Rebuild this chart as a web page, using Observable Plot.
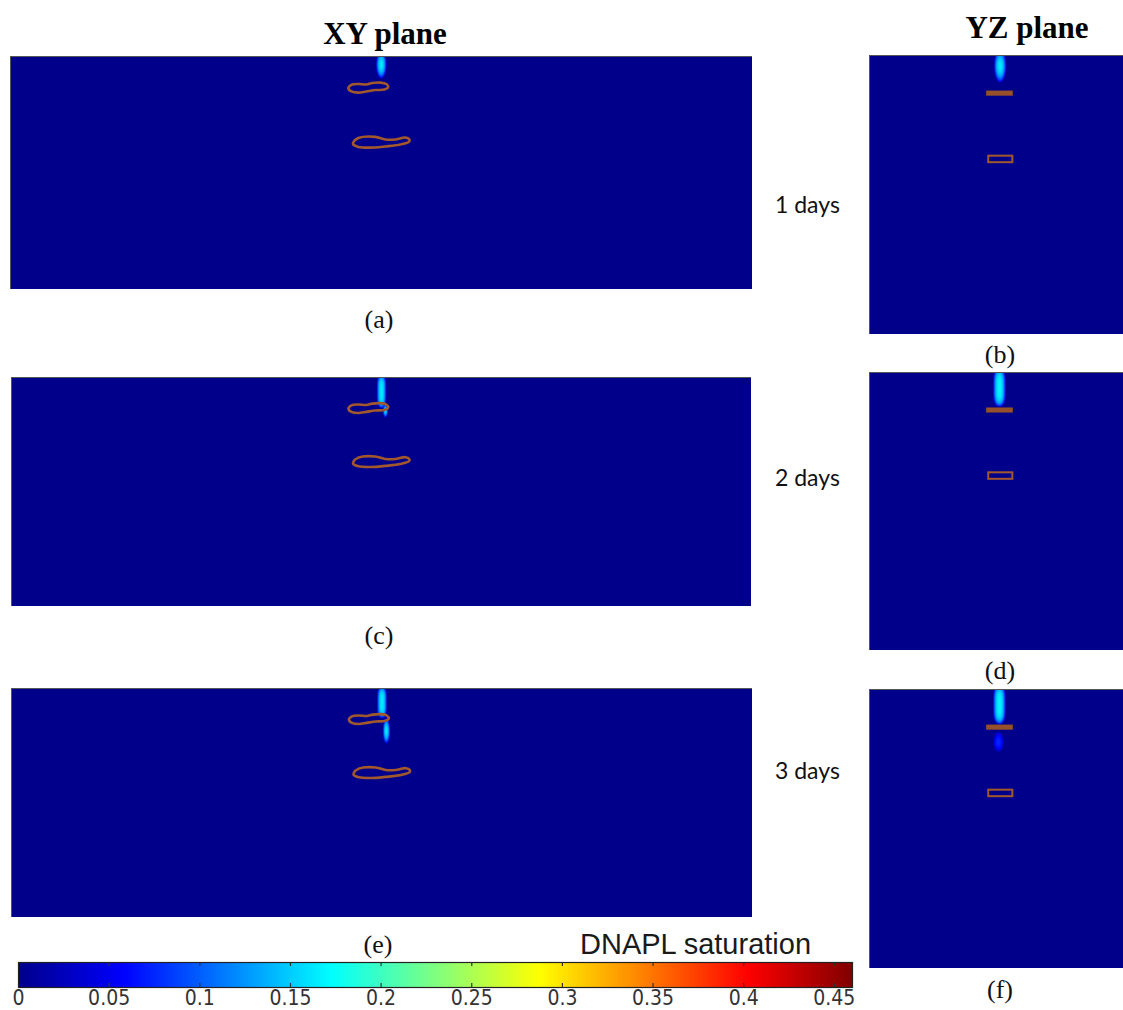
<!DOCTYPE html>
<html><head><meta charset="utf-8">
<script src="https://cdn.jsdelivr.net/npm/d3@7"></script>
<script src="https://cdn.jsdelivr.net/npm/@observablehq/plot@0.6"></script>
<style>
body{margin:0;background:#fff;}
#root{position:relative;width:1123px;height:1010px;overflow:hidden;background:#fff;}
.panel{position:absolute;line-height:0;}
#overlay{position:absolute;left:0;top:0;}
</style></head><body><div id="root"></div>
<script>
// ---------------- data ----------------
const panelIds   = ["a", "b", "c", "d", "e", "f"];
const panelPlane = ["XY", "YZ", "XY", "YZ", "XY", "YZ"];
const dayLabels  = ["1 days", "2 days", "3 days"];
const planeTitles = ["XY plane", "YZ plane"];
const legendTitle = "DNAPL saturation";

// model extents (cm): [horizontal, depth]
const xyExtent = [320, 100];
const yzExtent = [109.5, 120];

// DNAPL plume bodies (cm): panel, centre, radii, peak saturation, vertical shape exponent
const plumePanel = ["a", "c", "c", "e", "e", "b", "d", "f", "f"];
const plumeX     = [159.9, 160.0, 161.7, 160.0, 161.9, 56.3, 56.0, 56.0, 55.6];
const plumeY     = [3.5, 6.0, 14.5, 6.0, 18.5, 4.5, 6.5, 6.5, 22.6];
const plumeRx    = [2.2, 2.0, 1.0, 2.1, 1.5, 2.6, 2.7, 2.7, 2.2];
const plumeRy    = [6.0, 7.5, 2.9, 7.0, 5.6, 7.2, 8.4, 8.6, 4.4];
const plumePeak  = [0.165, 0.165, 0.16, 0.165, 0.165, 0.165, 0.17, 0.17, 0.075];
const plumeShape = [2, 4, 2, 4, 2, 2, 4, 4, 2];

// low-permeability lens outlines in the XY plane (cm)
const lensId = ["upper","upper","upper","upper","upper","upper","upper","upper","upper","upper","upper","upper","upper",
                "lower","lower","lower","lower","lower","lower","lower","lower","lower","lower","lower","lower","lower"];
const lensX = [145.7,147.0,150.0,153.4,156.0,159.5,162.1,162.9,161.2,157.3,153.4,150.0,147.0,
               147.8,150.0,157.3,161.6,165.9,170.3,172.0,172.0,168.1,161.6,155.2,150.0,147.8];
const lensY = [13.7,12.2,11.8,12.0,11.4,11.2,11.8,13.1,14.2,14.4,15.0,15.5,15.0,
               36.9,35.0,34.5,35.6,35.6,34.8,35.6,36.5,37.8,38.6,39.1,38.8,37.8];

// lenses in the YZ plane (cm)
const yzLensKind = ["filled", "outline"];
const yzLensX1 = [50.5, 51.4];
const yzLensX2 = [62.0, 61.8];
const yzLensY1 = [15.3, 43.3];
const yzLensY2 = [17.5, 46.1];

// colour bar
const cbMax = 0.46;
const cbTicks = [0, 0.05, 0.1, 0.15, 0.2, 0.25, 0.3, 0.35, 0.4, 0.45];
const jetStops  = [0, 0.125, 0.375, 0.625, 0.875, 1];
const jetColors = ["#00008a", "#0000ff", "#00ffff", "#ffff00", "#ff0000", "#800000"];

// ---------------- layout ----------------
const layout = {
  a: {left: 10,  top: 56,  width: 742, height: 233},
  c: {left: 11,  top: 377, width: 740, height: 229},
  e: {left: 11,  top: 688, width: 741, height: 229},
  b: {left: 869, top: 55,  width: 254, height: 279},
  d: {left: 869, top: 372, width: 254, height: 278},
  f: {left: 869, top: 689, width: 254, height: 279}
};
const brown = "#a0582c";
const colorScale = {type: "linear", domain: jetStops.map(t => t * cbMax), range: jetColors};

const plumes = plumePanel.map((p, i) => ({panel: p, x: plumeX[i], y: plumeY[i], rx: plumeRx[i], ry: plumeRy[i], peak: plumePeak[i], shape: plumeShape[i]}));
const lensPts = lensId.map((id, i) => ({id, x: lensX[i], y: lensY[i]}));
const yzLenses = yzLensKind.map((k, i) => ({kind: k, x1: yzLensX1[i], x2: yzLensX2[i], y1: yzLensY1[i], y2: yzLensY2[i]}));

function saturation(list, x, y) {
  let v = 0;
  for (const p of list) {
    const dx = (x - p.x) / p.rx, dy = Math.abs((y - p.y) / p.ry);
    const r = dx * dx + Math.pow(dy, p.shape);
    if (r < 1) { const s = p.peak * Math.pow(1 - r, 0.55); if (s > v) v = s; }
  }
  return v;
}

const root = document.getElementById("root");

panelIds.forEach((id, k) => {
  const L = layout[id];
  const isXY = panelPlane[k] === "XY";
  const ext = isXY ? xyExtent : yzExtent;
  const mine = plumes.filter(p => p.panel === id);
  const marks = [
    Plot.raster({fill: (x, y) => saturation(mine, x, y), x1: 0, x2: ext[0], y1: 0, y2: ext[1], pixelSize: 1})
  ];
  if (isXY) {
    marks.push(Plot.line(lensPts, {x: "x", y: "y", z: "id", curve: "catmull-rom-closed", stroke: brown, strokeWidth: 2.6}));
  } else {
    marks.push(Plot.rect(yzLenses.filter(d => d.kind === "filled"), {x1: "x1", x2: "x2", y1: "y1", y2: "y2", fill: "#96502a"}));
    marks.push(Plot.rect(yzLenses.filter(d => d.kind === "outline"), {x1: "x1", x2: "x2", y1: "y1", y2: "y2", fill: "none", stroke: brown, strokeWidth: 2}));
  }
  marks.push(Plot.frame({stroke: "#555", strokeWidth: 1}));
  const chart = Plot.plot({
    width: L.width, height: L.height, margin: 0,
    x: {domain: [0, ext[0]], axis: null},
    y: {domain: [0, ext[1]], reverse: true, axis: null},
    color: colorScale,
    marks
  });
  const div = document.createElement("div");
  div.className = "panel";
  div.style.left = L.left + "px"; div.style.top = L.top + "px";
  div.appendChild(chart);
  root.appendChild(div);
});

// colour bar
const cbFont = "'DejaVu Sans Condensed', 'Liberation Sans Narrow', 'Roboto Condensed', 'DejaVu Sans', sans-serif";
const cb = Plot.plot({
  width: 870, height: 53,
  marginLeft: 18, marginRight: 18, marginTop: 2, marginBottom: 26,
  style: {fontFamily: cbFont, fontSize: "21px", color: "#333", background: "transparent"},
  x: {domain: [0, cbMax], ticks: cbTicks, tickSize: 0, tickPadding: 3, label: null, tickFormat: d => String(d)},
  y: {domain: [0, 1], axis: null},
  color: colorScale,
  marks: [
    Plot.raster({fill: (x, y) => x, x1: 0, x2: cbMax, y1: 0, y2: 1, pixelSize: 1}),
    Plot.ruleX(cbTicks.slice(1), {y1: 0, y2: 0.16, stroke: "#333", strokeWidth: 1.2}),
    Plot.ruleX(cbTicks.slice(1), {y1: 0.84, y2: 1, stroke: "#333", strokeWidth: 1.2}),
    Plot.frame({stroke: "#222", strokeWidth: 1.2})
  ]
});
cb.querySelectorAll("text").forEach(t => {
  t.style.fontFamily = cbFont; t.style.fontSize = "21px"; t.style.fontStretch = "condensed";
});
const cbDiv = document.createElement("div");
cbDiv.className = "panel";
cbDiv.style.left = "0px"; cbDiv.style.top = "960px";
cbDiv.appendChild(cb);
root.appendChild(cbDiv);

// text overlay
const svg = d3.select(root).append("svg").attr("id", "overlay").attr("width", 1123).attr("height", 1010);
const serif = "'Liberation Serif', 'Times New Roman', serif";
svg.append("text").attr("x", 385).attr("y", 44).attr("text-anchor", "middle")
  .style("font-family", serif).style("font-weight", "bold").style("font-size", "31px").text(planeTitles[0]);
svg.append("text").attr("x", 1027).attr("y", 38).attr("text-anchor", "middle")
  .style("font-family", serif).style("font-weight", "bold").style("font-size", "31px").text(planeTitles[1]);
const subPos = {a: [379, 328], b: [1000, 363], c: [379, 644], d: [1000, 679], e: [378, 953], f: [1000, 998]};
panelIds.forEach(id => {
  svg.append("text").attr("x", subPos[id][0]).attr("y", subPos[id][1]).attr("text-anchor", "middle")
    .style("font-family", serif).style("font-size", "26px").attr("fill", "#111").text("(" + id + ")");
});
const dayY = [213, 486, 779];
dayLabels.forEach((t, i) => {
  svg.append("text").attr("x", 775).attr("y", dayY[i]).style("font-family", "Lato, 'Open Sans', sans-serif")
    .style("font-size", "23px").attr("fill", "#111").text(t);
});
svg.append("text").attr("x", 580).attr("y", 954).style("font-family", "'Liberation Sans', Arial, sans-serif")
  .style("font-size", "29px").attr("fill", "#1a1a1a").text(legendTitle);
</script></body></html>
